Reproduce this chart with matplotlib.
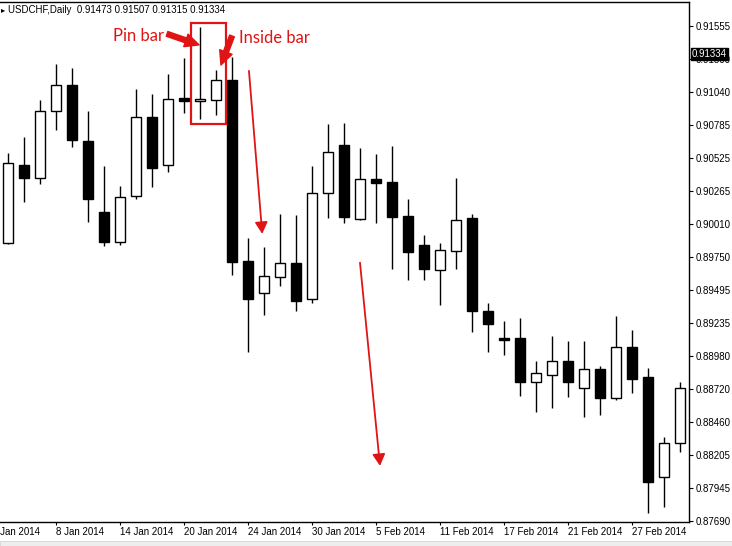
import matplotlib
matplotlib.use("Agg")
import matplotlib.pyplot as plt
from matplotlib.patches import Rectangle

# USDCHF daily bars, 3 Jan 2014 .. 4 Mar 2014
dates = ["3 Jan", "6 Jan", "7 Jan", "8 Jan", "9 Jan", "10 Jan",
         "13 Jan", "14 Jan", "15 Jan", "16 Jan", "17 Jan",
         "20 Jan", "21 Jan", "22 Jan", "23 Jan", "24 Jan",
         "27 Jan", "28 Jan", "29 Jan", "30 Jan", "31 Jan",
         "3 Feb", "4 Feb", "5 Feb", "6 Feb", "7 Feb",
         "10 Feb", "11 Feb", "12 Feb", "13 Feb", "14 Feb",
         "17 Feb", "18 Feb", "19 Feb", "20 Feb", "21 Feb",
         "24 Feb", "25 Feb", "26 Feb", "27 Feb", "28 Feb",
         "3 Mar", "4 Mar"]
opens = [0.89860, 0.90469, 0.90366, 0.90889, 0.91094, 0.90657,
         0.90102, 0.89870, 0.90225, 0.90844, 0.90466,
         0.90993, 0.90969, 0.90977, 0.91133, 0.89720,
         0.89467, 0.89592, 0.89704, 0.89425, 0.90248,
         0.90626, 0.90050, 0.90360, 0.90337, 0.90073,
         0.89845, 0.89652, 0.89800, 0.90055, 0.89329,
         0.89121, 0.89118, 0.88777, 0.88827, 0.88936,
         0.88730, 0.88874, 0.88652, 0.89046, 0.88812,
         0.88030, 0.88296]
highs = [0.90565, 0.90690, 0.90977, 0.91258, 0.91227, 0.90891,
         0.90462, 0.90305, 0.91063, 0.91024, 0.91180,
         0.91303, 0.91545, 0.91211, 0.91315, 0.89897,
         0.89829, 0.90087, 0.90079, 0.90462, 0.90790,
         0.90797, 0.90602, 0.90555, 0.90618, 0.90204,
         0.89923, 0.89860, 0.90368, 0.90087, 0.89392,
         0.89251, 0.89275, 0.88939, 0.89134, 0.89095,
         0.89095, 0.88897, 0.89290, 0.89181, 0.88882,
         0.88345, 0.88775]
lows = [0.89855, 0.90183, 0.90323, 0.90745, 0.90612, 0.90027,
        0.89839, 0.89845, 0.90206, 0.90300, 0.90417,
        0.90873, 0.90826, 0.90860, 0.89610, 0.89011,
        0.89298, 0.89527, 0.89332, 0.89394, 0.90058,
        0.90019, 0.90042, 0.90019, 0.89660, 0.89571,
        0.89571, 0.89378, 0.89660, 0.89167, 0.89011,
        0.88986, 0.88665, 0.88540, 0.88572, 0.88660,
        0.88504, 0.88517, 0.88636, 0.88691, 0.87754,
        0.87801, 0.88230]
closes = [0.90483, 0.90370, 0.90889, 0.91094, 0.90661, 0.90206,
          0.89870, 0.90217, 0.90844, 0.90448, 0.90983,
          0.90969, 0.90985, 0.91133, 0.89714, 0.89425,
          0.89600, 0.89704, 0.89410, 0.90248, 0.90569,
          0.90066, 0.90360, 0.90331, 0.90066, 0.89792,
          0.89660, 0.89806, 0.90040, 0.89332, 0.89230,
          0.89105, 0.88775, 0.88843, 0.88936, 0.88775,
          0.88874, 0.88652, 0.89046, 0.88800, 0.87996,
          0.88296, 0.88724]

price_ticks = [0.91555, 0.91300, 0.91040, 0.90785, 0.90525, 0.90265, 0.90010,
               0.89750, 0.89495, 0.89235, 0.88980, 0.88720, 0.88460, 0.88205,
               0.87945, 0.87690]
last_price = 0.91334
header = "USDCHF,Daily  0.91473 0.91507 0.91315 0.91334"

RED = "#e01414"
FONT = "Liberation Sans"

fig = plt.figure(figsize=(7.32, 5.46), dpi=100)
ax = fig.add_axes([0, 24 / 546, 689 / 732, 520 / 546])

x = list(range(len(dates)))
ax.vlines(x, lows, highs, color="black", linewidth=1.0, zorder=2)
bottoms = [min(o, c) for o, c in zip(opens, closes)]
heights = [abs(c - o) for o, c in zip(opens, closes)]
fills = ["white" if c >= o else "black" for o, c in zip(opens, closes)]
ax.bar(x, heights, bottom=bottoms, width=0.58, color=fills,
       edgecolor="black", linewidth=1.0, zorder=3)

ax.set_xlim(-0.5, 42.5625)
ax.set_ylim(0.87681, 0.91742)

# axes look of the terminal
ax.spines["left"].set_visible(False)
for s in ("top", "right", "bottom"):
    ax.spines[s].set_linewidth(1.0)
ax.yaxis.tick_right()
ax.set_yticks(price_ticks)
ax.set_yticklabels([f"{v:.5f}" for v in price_ticks], fontsize=7, family=FONT)
ax.tick_params(axis="y", direction="out", length=3, width=0.8, pad=2)

label_idx = [i for i in x if i % 4 == 3]
ax.set_xticks(label_idx)
ax.set_xticklabels([dates[i] + " 2014" for i in label_idx], fontsize=7, family=FONT,
                   ha="left")
ax.tick_params(axis="x", direction="out", length=2.2, width=0.8, pad=1.5)
# first label belongs to the bar just left of the visible range
ax.annotate("2 Jan 2014", xy=(-1, 0), xycoords=ax.get_xaxis_transform(),
            xytext=(0, -3.7), textcoords="offset points", fontsize=7, family=FONT,
            ha="left", va="top", annotation_clip=False)

# current price marker
ax.annotate(f"{last_price:.5f}", xy=(1.0, last_price),
            xycoords=ax.get_yaxis_transform(), xytext=(2, 0),
            textcoords="offset points", fontsize=7, family=FONT, color="white",
            va="center", ha="left",
            bbox=dict(boxstyle="square,pad=0.12", fc="black", ec="black"),
            annotation_clip=False)

# annotations
ax.add_patch(Rectangle((11.425, 0.90792), 13.61 - 11.425, 0.91576 - 0.90792,
                       fill=False, edgecolor=RED, linewidth=1.6, zorder=5))
ax.text(6.56, 0.91438, "Pin bar", color=RED, fontsize=12, family="Lato",
        va="baseline", ha="left")
ax.text(14.44, 0.91422, "Inside bar", color=RED, fontsize=12, family="Lato",
        va="baseline", ha="left")
fat = dict(arrowstyle="simple,head_length=1.0,head_width=0.95,tail_width=0.36",
           color=RED, mutation_scale=10, shrinkA=0, shrinkB=0)
ax.annotate("", xy=(11.94, 0.91407), xytext=(9.94, 0.91493), arrowprops=fat, zorder=6)
ax.annotate("", xy=(13.31, 0.91250), xytext=(14.0, 0.91477), arrowprops=fat, zorder=6)
thin = dict(arrowstyle="-|>,head_length=0.7,head_width=0.38", color=RED,
            linewidth=1.3, mutation_scale=10, shrinkA=0, shrinkB=0)
ax.annotate("", xy=(15.89, 0.89931), xytext=(15.06, 0.91204), arrowprops=thin, zorder=6)
ax.annotate("", xy=(23.25, 0.88119), xytext=(22.0, 0.89706), arrowprops=thin, zorder=6)

# header line
fig.text(8 / 732, 1 - 10 / 546, header, fontsize=7, family=FONT, va="center", ha="left")
fig.text(0.5 / 732, 1 - 10 / 546, "\u25b8", fontsize=6, va="center", ha="left")

# grey status strip at the very bottom
fig.patches.append(Rectangle((0, 0), 1, 5 / 546, transform=fig.transFigure,
                             facecolor="#ededed", edgecolor="#d4d4d4", linewidth=0.6))

fig.savefig("out.png", dpi=100)
